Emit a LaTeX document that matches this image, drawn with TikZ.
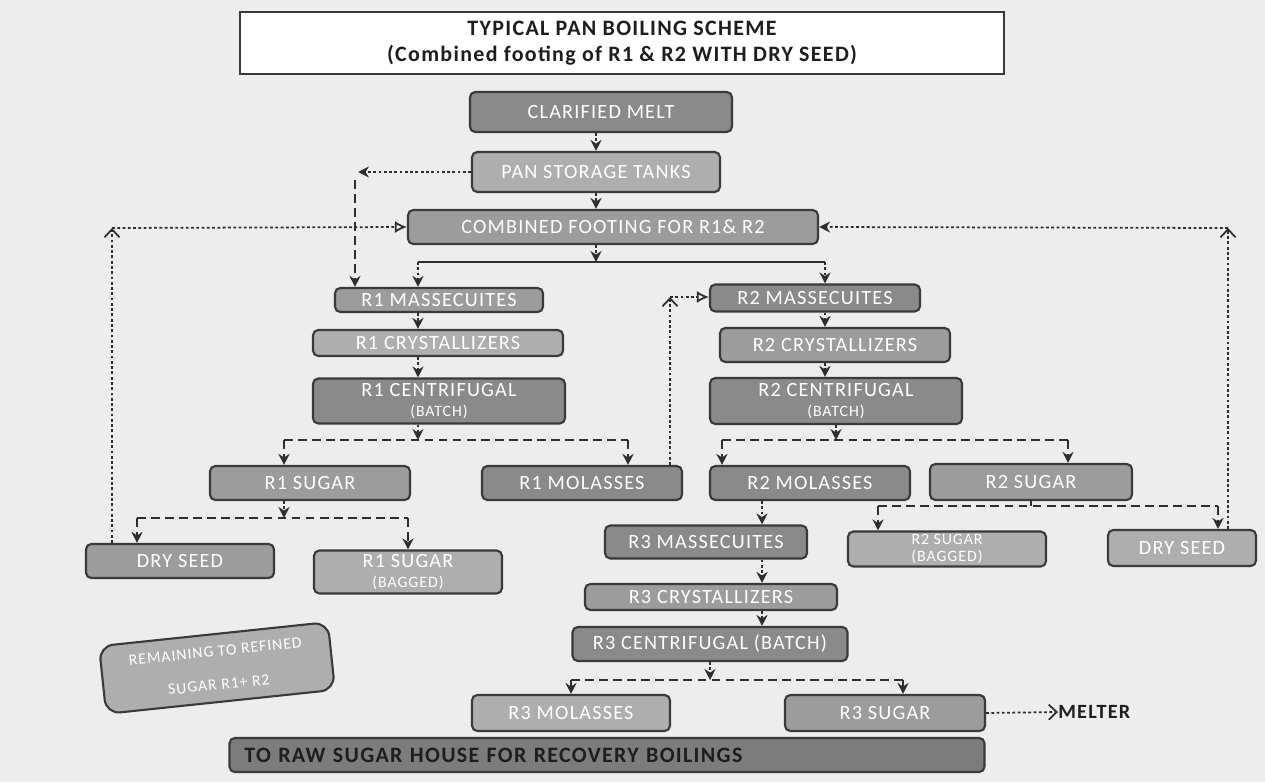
\documentclass[tikz,border=0pt]{standalone}
\usepackage{fontspec}
\setmainfont{Carlito}[LetterSpace=6]
\usetikzlibrary{arrows.meta,positioning}
\definecolor{PanInk}{HTML}{1E1E1E}
\definecolor{PanEdge}{HTML}{3A3A3A}
\definecolor{PanLine}{HTML}{2E2E2E}
\definecolor{PanDark}{HTML}{8A8A8A}
\definecolor{PanMid}{HTML}{9C9C9C}
\definecolor{PanLight}{HTML}{AEAEAE}
\definecolor{PanDeep}{HTML}{7C7C7C}
\definecolor{PanPaper}{HTML}{EDEDED}
\tikzset{
  every node/.style={font=\fontsize{11.5}{13}\selectfont, text=PanInk},
  boxsize/.style 2 args={minimum width=#1*0.2mm, minimum height=#2*0.2mm},
  stage/.style={draw=PanEdge, line width=1.2pt, rounded corners=3pt, inner sep=1pt, align=center, text=white},
  pandark/.style={stage, fill=PanDark},
  panmid/.style={stage, fill=PanMid},
  panlight/.style={stage, fill=PanLight},
  heading/.style={draw=PanEdge, line width=1pt, fill=white, align=center, font=\bfseries\fontsize{12.5}{15}\selectfont},
  feed/.style={-{Stealth[length=2.2mm,width=2.2mm]}, draw=PanLine, line width=1pt, dash pattern=on 1.6pt off 1.4pt},
  recycle/.style={feed, -{Latex[open,length=2.4mm,width=2.4mm]}},
  riser/.style={feed, -{Straight Barb[length=1.6mm,width=3mm]}},
  split/.style={draw=PanLine, line width=1.1pt, dash pattern=on 5pt off 3pt},
  drop/.style={split, -{Stealth[length=2.2mm,width=2.2mm]}},
  small/.style={font=\fontsize{9}{10}\selectfont},
}

\begin{document}
\begin{tikzpicture}[x=0.2mm,y=-0.2mm]
  % Paper
  \fill[PanPaper] (0,0) rectangle (1265,782);
  \useasboundingbox (0,0) rectangle (1265,782);
  % Title
  \node[heading, boxsize={764}{62}] (title) at (622,43)
    {TYPICAL PAN BOILING SCHEME\\(Combined footing of R1 \& R2 WITH DRY SEED)};
  % Melt, tanks and footing
  \node[pandark, boxsize={262}{40}] (melt) at (601,112) {CLARIFIED MELT};
  \node[panlight, boxsize={248}{40}] (tanks) at (596,172) {PAN STORAGE TANKS};
  \node[panmid, boxsize={410}{34}] (footing) at (613,227) {COMBINED FOOTING FOR R1\& R2};
  % R1 chain
  \node[panmid, boxsize={208}{24}] (r1mass) at (439,300) {R1 MASSECUITES};
  \node[panlight, boxsize={250}{26}] (r1cryst) at (438,343) {R1 CRYSTALLIZERS};
  \node[pandark, boxsize={252}{45}] (r1cent) at (439,401) {R1 CENTRIFUGAL\\[-2pt]{\small (BATCH)}};
  \node[panmid, boxsize={200}{34}] (r1sugar) at (310,483) {R1 SUGAR};
  \node[pandark, boxsize={200}{34}] (r1mol) at (582,483) {R1 MOLASSES};
  \node[panmid, boxsize={188}{34}] (dryL) at (180,561) {DRY SEED};
  \node[panlight, boxsize={188}{43}] (r1bag) at (408,572) {R1 SUGAR\\[-2pt]{\small (BAGGED)}};
  % R2 chain
  \node[pandark, boxsize={210}{27}] (r2mass) at (815,298) {R2 MASSECUITES};
  \node[panmid, boxsize={230}{34}] (r2cryst) at (835,345) {R2 CRYSTALLIZERS};
  \node[pandark, boxsize={252}{46}] (r2cent) at (836,401) {R2 CENTRIFUGAL\\[-2pt]{\small (BATCH)}};
  \node[pandark, boxsize={200}{34}] (r2mol) at (810,483) {R2 MOLASSES};
  \node[panmid, boxsize={202}{36}] (r2sugar) at (1031,482) {R2 SUGAR};
  \node[panlight, boxsize={198}{35}] (r2bag) at (947,549) {\small R2 SUGAR\\[-3pt]{\small (BAGGED)}};
  \node[panlight, boxsize={148}{36}] (dryR) at (1182,548) {DRY SEED};
  % R3 chain
  \node[pandark, boxsize={202}{33}] (r3mass) at (706,542) {R3 MASSECUITES};
  \node[panmid, boxsize={252}{26}] (r3cryst) at (711,597) {R3 CRYSTALLIZERS};
  \node[pandark, boxsize={275}{34}] (r3cent) at (710,644) {R3 CENTRIFUGAL (BATCH)};
  \node[panlight, boxsize={198}{36}] (r3mol) at (571,713) {R3 MOLASSES};
  \node[panmid, boxsize={200}{36}] (r3sugar) at (885,713) {R3 SUGAR};
  \node[font=\bfseries\fontsize{11.5}{12}\selectfont, anchor=west, inner sep=0pt] (melter) at (1058,712) {MELTER};
  % Outlets
  \node[stage, fill=PanDeep, boxsize={755}{34}, text=PanInk, align=left, text width=145mm,
    inner xsep=3mm, font=\bfseries\fontsize{12.5}{14}\selectfont] (raw) at (607,755)
    {TO RAW SUGAR HOUSE FOR RECOVERY BOILINGS};
  \node[panlight, boxsize={230}{68}, rotate=6, rounded corners=8pt, small] (remain) at (217,668)
    {REMAINING TO REFINED\\[9pt]SUGAR R1+ R2};

  % Split points
  \coordinate (splitL) at (418,262);
  \coordinate (splitR) at (825,262);
  \coordinate (tankL) at (358,172);
  \coordinate (tankLb) at (355,180);
  \coordinate (seedL) at (112,228);
  \coordinate (seedR) at (1228,228);
  \coordinate (molUp) at (670,297);
  \coordinate (r1sL) at (284,440);
  \coordinate (r1sR) at (628,440);
  \coordinate (r2sL) at (722,440);
  \coordinate (r2sR) at (1068,440);
  \coordinate (bagL) at (137,518);
  \coordinate (bagR) at (408,518);
  \coordinate (bag2L) at (878,506);
  \coordinate (bag2R) at (1218,506);
  \coordinate (r3col) at (762,0);
  \coordinate (r3sL) at (571,680);
  \coordinate (r3sR) at (903,680);

  % Melt to footing
  \draw[feed] (melt.south -| tanks.south) -- (tanks.north);
  \draw[feed] (tanks.south) -- (tanks.south |- footing.north);
  \draw[feed] (tanks.south |- footing.south) -- (tanks.south |- splitL);
  \draw[draw=PanLine, line width=1.1pt] (splitL) -- (splitR);
  \draw[feed] (splitL) -- (splitL |- r1mass.north);
  \draw[feed] (splitR) -- (splitR |- r2mass.north);
  % Tank bypass
  \draw[feed] (tanks.west) -- (tankL);
  \draw[split, -{Stealth[length=2.2mm,width=2.2mm]}] (tankLb) -- (tankLb |- r1mass.north);
  % Dry seed returns
  \draw[riser] (dryL.north -| seedL) -- (seedL);
  \draw[recycle] (seedL) -- (footing.west);
  \draw[riser] (dryR.north -| seedR) -- (seedR);
  \draw[feed] (seedR) -- (footing.east);
  % R1 path
  \draw[feed] (r1mass.south -| splitL) -- (r1cryst.north -| splitL);
  \draw[feed] (r1cryst.south -| splitL) -- (r1cent.north -| splitL);
  \draw[feed] (r1cent.south -| splitL) -- (r1sL -| splitL);
  \draw[split] (r1sL) -- (r1sR);
  \draw[drop] (r1sL) -- (r1sL |- r1sugar.north);
  \draw[drop] (r1sR) -- (r1sR |- r1mol.north);
  \draw[feed] (r1sugar.south -| r1sL) -- (bagL -| r1sL);
  \draw[split] (bagL) -- (bagR);
  \draw[drop] (bagL) -- (bagL |- dryL.north);
  \draw[drop] (bagR) -- (bagR |- r1bag.north);
  % R1 molasses to R2
  \draw[riser] (r1mol.north -| molUp) -- (molUp);
  \draw[recycle] (molUp) -- (molUp -| r2mass.west);
  % R2 path
  \draw[feed] (r2mass.south -| splitR) -- (r2cryst.north -| splitR);
  \draw[feed] (r2cryst.south -| splitR) -- (r2cent.north -| splitR);
  \draw[feed] (r2cent.south) -- (r2sL -| r2cent.south);
  \draw[split] (r2sL) -- (r2sR);
  \draw[drop] (r2sL) -- (r2sL |- r2mol.north);
  \draw[drop] (r2sR) -- (r2sR |- r2sugar.north);
  \draw[split] (r2sugar.south) -- (bag2L -| r2sugar.south);
  \draw[split] (bag2L) -- (bag2R);
  \draw[drop] (bag2L) -- (bag2L |- r2bag.north);
  \draw[drop] (bag2R) -- (bag2R |- dryR.north);
  % R3 path
  \draw[feed] (r2mol.south -| r3col) -- (r3mass.north -| r3col);
  \draw[feed] (r3mass.south -| r3col) -- (r3cryst.north -| r3col);
  \draw[feed] (r3cryst.south -| r3col) -- (r3cent.north -| r3col);
  \draw[feed] (r3cent.south) -- (r3sL -| r3cent.south);
  \draw[split] (r3sL) -- (r3sR);
  \draw[drop] (r3sL) -- (r3sL |- r3mol.north);
  \draw[drop] (r3sR) -- (r3sR |- r3sugar.north);
  \draw[feed, -{Straight Barb[length=1.6mm,width=3mm]}] (r3sugar.east) -- (melter.west);
\end{tikzpicture}
\end{document}
